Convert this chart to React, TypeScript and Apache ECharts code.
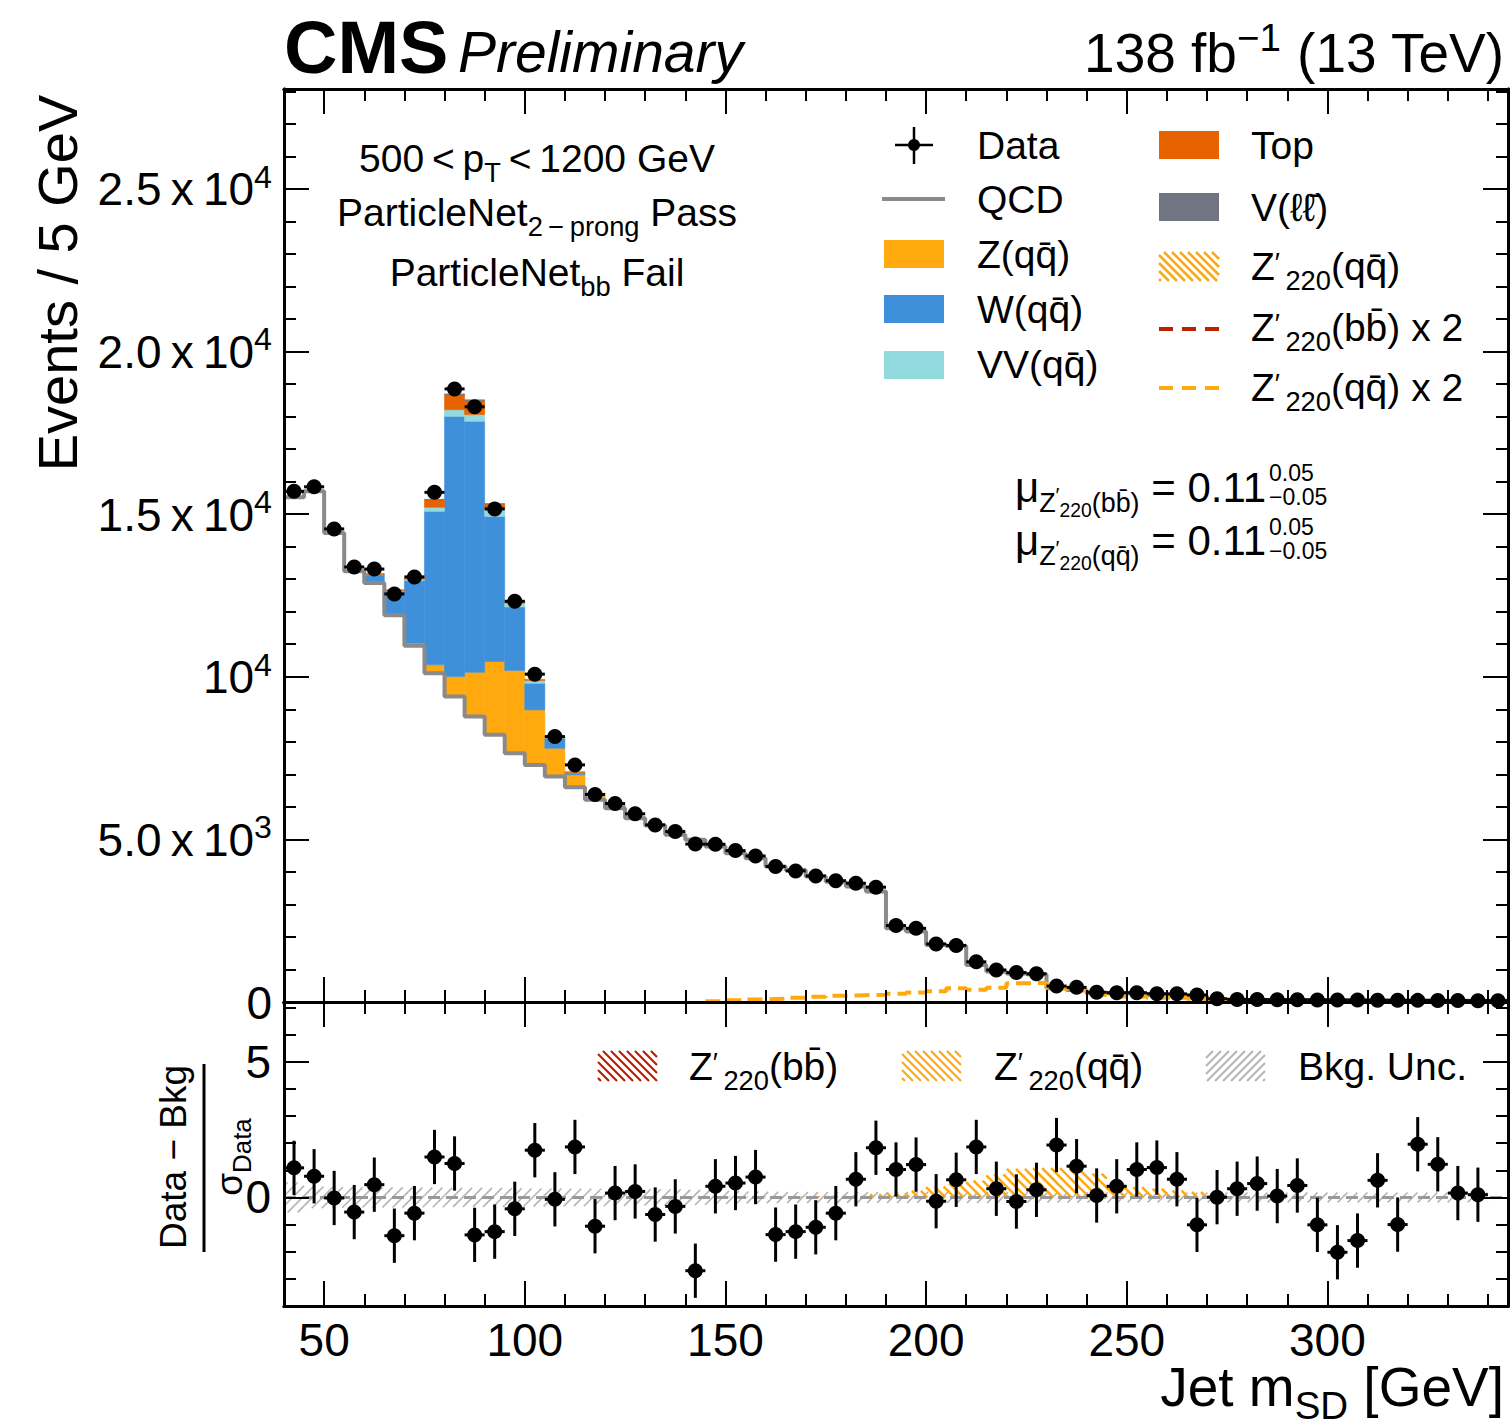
import React, { useEffect, useRef } from "react";
import * as echarts from "echarts";

const FONT = '"Liberation Sans", Helvetica, Arial, sans-serif';

// ---- binning of the soft-drop jet mass (GeV) ----
const massLow = 40;
const massHigh = 345;
const binWidth = 5;

// ---- observed events per 5 GeV bin (40 ... 345 GeV) ----
const dataCounts = [
  15700, 15840, 14545, 13375, 13310, 12545, 13070, 15670, 18850, 18300,
  15160, 12320, 10080, 8160, 7290, 6380, 6100, 5785, 5445, 5240,
  4855, 4850, 4655, 4490, 4165, 4030, 3875, 3730, 3650, 3530,
  2350, 2265, 1785, 1740, 1235, 985, 905, 865, 490, 450,
  300, 285, 285, 255, 250, 215, 100, 80, 75, 70,
  68, 65, 62, 58, 55, 52, 50, 48, 45, 42, 40,
];

// ---- background templates ----
const qcd = [
  15520, 15700, 14420, 13240, 12880, 11890, 10950, 10110, 9390, 8780,
  8215, 7650, 7290, 6930, 6600, 6215, 5960, 5650, 5425, 5140,
  4985, 4780, 4575, 4420, 4165, 4060, 3855, 3700, 3550, 3395,
  2270, 2165, 1755, 1720, 1140, 935, 880, 850, 420, 370,
  270, 270, 265, 215, 215, 185, 70, 65, 62, 60,
  58, 55, 53, 50, 48, 46, 44, 42, 40, 38, 36,
];
const zqq = [
  0, 0, 0, 0, 0, 20, 80, 255, 615, 1355,
  2255, 2545, 1690, 870, 385, 160, 60, 25, 10, 0,
  0, 0, 0, 0, 0, 0, 0, 0, 0, 0,
  0, 0, 0, 0, 0, 0, 0, 0, 0, 0,
  0, 0, 0, 0, 0, 0, 0, 0, 0, 0,
  0, 0, 0, 0, 0, 0, 0, 0, 0, 0, 0,
];
const wqq = [
  0, 0, 0, 30, 255, 720, 1930, 4720, 8000, 7720,
  4460, 1950, 820, 310, 60, 20, 0, 0, 0, 0,
  0, 0, 0, 0, 0, 0, 0, 0, 0, 0,
  0, 0, 0, 0, 0, 0, 0, 0, 0, 0,
  0, 0, 0, 0, 0, 0, 0, 0, 0, 0,
  0, 0, 0, 0, 0, 0, 0, 0, 0, 0, 0,
];
const vvqq = [
  0, 0, 0, 0, 10, 15, 40, 125, 205, 205,
  225, 120, 80, 20, 10, 0, 0, 0, 0, 0,
  0, 0, 0, 0, 0, 0, 0, 0, 0, 0,
  0, 0, 0, 0, 0, 0, 0, 0, 0, 0,
  0, 0, 0, 0, 0, 0, 0, 0, 0, 0,
  0, 0, 0, 0, 0, 0, 0, 0, 0, 0, 0,
];
const topQuark = [
  0, 0, 0, 10, 30, 30, 40, 235, 460, 430,
  155, 50, 40, 30, 25, 20, 15, 10, 0, 0,
  0, 0, 0, 0, 0, 0, 0, 0, 0, 0,
  0, 0, 0, 0, 0, 0, 0, 0, 0, 0,
  0, 0, 0, 0, 0, 0, 0, 0, 0, 0,
  0, 0, 0, 0, 0, 0, 0, 0, 0, 0, 0,
];
const vll = [
  0, 0, 0, 0, 0, 0, 0, 10, 25, 25,
  10, 0, 0, 0, 0, 0, 0, 0, 0, 0,
  0, 0, 0, 0, 0, 0, 0, 0, 0, 0,
  0, 0, 0, 0, 0, 0, 0, 0, 0, 0,
  0, 0, 0, 0, 0, 0, 0, 0, 0, 0,
  0, 0, 0, 0, 0, 0, 0, 0, 0, 0, 0,
];

// ---- Z'(220) -> qq signal template, scaled x 2 ----
const sigQQx2 = [
  0, 0, 0, 0, 0, 0, 0, 0, 0, 0,
  0, 0, 0, 0, 0, 0, 0, 0, 0, 0,
  0, 20, 50, 80, 100, 130, 160, 190, 210, 220,
  250, 290, 330, 420, 375, 440, 575, 595, 420, 350,
  220, 170, 165, 130, 130, 100, 40, 10, 0, 0,
  0, 0, 0, 0, 0, 0, 0, 0, 0, 0, 0,
];

// ---- lower panel: (Data - Bkg) / sigma_Data ----
const pulls: (number | null)[] = [
  1.09, 0.78, -0.02, -0.54, 0.47, -1.41, -0.58, 1.49, 1.25, -1.38,
  -1.26, -0.42, 1.74, -0.07, 1.86, -1.06, 0.16, 0.22, -0.63, -0.33,
  -2.7, 0.41, 0.53, 0.75, -1.37, -1.26, -1.1, -0.58, 0.67, 1.83,
  1.03, 1.21, -0.14, 0.65, 1.86, 0.32, -0.15, 0.28, 1.93, 1.15,
  0.07, 0.41, 1.03, 1.1, 0.67, -1.01, 0.01, 0.32, 0.51, 0.05,
  0.44, -1.01, -2.02, -1.59, 0.63, -1.0, 1.96, 1.22, 0.16, 0.1, null,
];
const bkgUnc = [
  0.55, 0.4, 0.38, 0.37, 0.37, 0.37, 0.36, 0.36, 0.35, 0.35,
  0.35, 0.34, 0.33, 0.33, 0.32, 0.32, 0.31, 0.3, 0.3, 0.3,
  0.28, 0.26, 0.24, 0.22, 0.21, 0.2, 0.2, 0.2, 0.2, 0.2,
  0.2, 0.2, 0.2, 0.2, 0.2, 0.2, 0.19, 0.19, 0.19, 0.19,
  0.19, 0.19, 0.18, 0.18, 0.18, 0.18, 0.18, 0.18, 0.18, 0.18,
  0.18, 0.18, 0.18, 0.18, 0.18, 0.18, 0.18, 0.18, 0.18, 0.18, 0,
];
const sigQQPull = [
  0, 0, 0, 0, 0, 0, 0, 0, 0, 0,
  0, 0, 0, 0, 0, 0, 0, 0, 0, 0,
  0, 0, 0.02, 0.02, 0.02, 0.03, 0.04, 0.05, 0.07, 0.12,
  0.16, 0.24, 0.4, 0.52, 0.62, 0.85, 1.05, 1.08, 1.08, 1.06,
  0.88, 0.55, 0.38, 0.32, 0.25, 0.2, 0.08, 0, 0, 0,
  0, 0, 0, 0, 0, 0, 0, 0, 0, 0, 0,
];

// ---- axis ticks and labels ----
const xMajorTicks = [50, 100, 150, 200, 250, 300];
const xMinorTicks = [40, 60, 70, 80, 90, 110, 120, 130, 140, 160, 170, 180, 190, 210, 220, 230, 240, 260, 270, 280, 290, 310, 320, 330, 340];
const yMainTicks = [0, 5000, 10000, 15000, 20000, 25000];
const yMainTickText = [
  "{m|0}",
  "{m|5.0\u2009x\u200910}{sup|3}",
  "{m|10}{sup|4}",
  "{m|1.5\u2009x\u200910}{sup|4}",
  "{m|2.0\u2009x\u200910}{sup|4}",
  "{m|2.5\u2009x\u200910}{sup|4}",
];
const yMainMinor = [1000, 2000, 3000, 4000, 6000, 7000, 8000, 9000, 11000, 12000, 13000, 14000, 16000, 17000, 18000, 19000, 21000, 22000, 23000, 24000, 26000, 27000, 28000];
const yRatioTicks = [0, 5];
const yRatioMinor = [-3, -2, -1, 1, 2, 3, 4, 6, 7];

const C = {
  qcd: "#8a8a8a",
  z: "#ffa90e",
  w: "#3f90da",
  vv: "#92dadd",
  top: "#e76300",
  vll: "#717581",
  bb: "#bd1f01",
  unc: "#b4b4b4",
};

const edgeOf = (i: number) => massLow + i * binWidth;
const centreOf = (i: number) => massLow + (i + 0.5) * binWidth;

// Rich-text token: size s, baseline shifted by d px (down positive) w.r.t. a main font of size f.
function tok(f: number, s: number, d: number) {
  const p = Math.max(0, 0.5575 * f - 0.1535 * s - d);
  return {
    fontSize: s,
    fontFamily: FONT,
    color: "#000",
    fill: "#000",
    verticalAlign: "bottom",
    padding: [0, 0, p, 0],
  };
}
function richSet(f: number) {
  return {
    m: { ...tok(f, f, 0), padding: [0.426 * f, 0, 0.404 * f, 0] },
    sub: tok(f, 0.7 * f, 0.24 * f),
    sup: tok(f, 0.7 * f, -0.38 * f),
    pr: tok(f, 0.7 * f, -0.22 * f),
    zs: tok(f, 0.64 * f, 0.24 * f),
    zp: tok(f, 0.5 * f, 0.0 * f),
    z2: tok(f, 0.46 * f, 0.36 * f),
  };
}

function measure(str: string, size: number) {
  const ctx = document.createElement("canvas").getContext("2d")!;
  ctx.font = `${size}px ${FONT}`;
  return ctx.measureText(str).width;
}

function hatchSegments(x0: number, y0: number, x1: number, y1: number, step: number, dir: string) {
  const segs: number[][] = [];
  if (x1 - x0 < 0.5 || y1 - y0 < 0.5) return segs;
  if (dir === "/") {
    const k0 = Math.ceil((x0 + y0) / step) * step;
    for (let k = k0; k <= x1 + y1; k += step) {
      const xa = Math.max(x0, k - y1);
      const xb = Math.min(x1, k - y0);
      if (xb > xa) segs.push([xa, k - xa, xb, k - xb]);
    }
  } else {
    const k0 = Math.ceil((x0 - y1) / step) * step;
    for (let k = k0; k <= x1 - y0; k += step) {
      const xa = Math.max(x0, y0 + k);
      const xb = Math.min(x1, y1 + k);
      if (xb > xa) segs.push([xa, xa - k, xb, xb - k]);
    }
  }
  return segs;
}

function hatchGroup(x0: number, y0: number, x1: number, y1: number, step: number, dir: string, color: string, width: number) {
  return hatchSegments(x0, y0, x1, y1, step, dir).map((s) => ({
    type: "line",
    shape: { x1: s[0], y1: s[1], x2: s[2], y2: s[3] },
    style: { stroke: color, lineWidth: width },
  }));
}

function rectRender(color: string) {
  return (_p: any, api: any) => {
    const a = api.coord([api.value(0), api.value(3)]);
    const b = api.coord([api.value(1), api.value(2)]);
    return {
      type: "rect",
      shape: { x: a[0], y: a[1], width: b[0] - a[0], height: b[1] - a[1] },
      style: { fill: color, stroke: color, lineWidth: 0.6 },
    };
  };
}

function hatchRender(color: string, dir: string, step: number, width: number) {
  return (_p: any, api: any) => {
    const a = api.coord([api.value(0), api.value(3)]);
    const b = api.coord([api.value(1), api.value(2)]);
    return {
      type: "group",
      children: hatchGroup(Math.min(a[0], b[0]), Math.min(a[1], b[1]), Math.max(a[0], b[0]), Math.max(a[1], b[1]), step, dir, color, width),
    };
  };
}

function pointRender(r: number) {
  return (_p: any, api: any) => {
    const x = api.value(0);
    const y = api.value(1);
    const e = api.value(2);
    const c = api.coord([x, y]);
    const l = api.coord([x - binWidth / 2, y]);
    const rr = api.coord([x + binWidth / 2, y]);
    const t = api.coord([x, y + e]);
    const b = api.coord([x, y - e]);
    return {
      type: "group",
      children: [
        { type: "line", shape: { x1: l[0], y1: l[1], x2: rr[0], y2: rr[1] }, style: { stroke: "#000", lineWidth: 3 } },
        { type: "line", shape: { x1: t[0], y1: t[1], x2: b[0], y2: b[1] }, style: { stroke: "#000", lineWidth: 3 } },
        { type: "circle", shape: { cx: c[0], cy: c[1], r }, style: { fill: "#000" } },
      ],
    };
  };
}

function stepData(values: number[], from = 0, to = values.length) {
  const out: number[][] = [];
  for (let i = from; i < to; i++) out.push([edgeOf(i), values[i]]);
  out.push([edgeOf(to), values[to - 1]]);
  return out;
}

function xAxisDef(grid: number, pos: string, ticks: number[], len: number, labels: boolean) {
  return {
    type: "value",
    gridIndex: grid,
    position: pos,
    min: massLow,
    max: massHigh,
    z: 20,
    axisLine: { show: true, onZero: false, lineStyle: { color: "#000", width: 3 } },
    axisTick: { show: true, inside: true, length: len, customValues: ticks, lineStyle: { color: "#000", width: 2 } },
    axisLabel: labels
      ? { show: true, customValues: ticks, fontSize: 46, fontFamily: FONT, color: "#000", margin: 11 }
      : { show: false },
    splitLine: { show: false },
  };
}

function yAxisDef(grid: number, pos: string, min: number, max: number, ticks: number[], len: number, label: any) {
  return {
    type: "value",
    gridIndex: grid,
    position: pos,
    min,
    max,
    z: 20,
    axisLine: { show: true, onZero: false, lineStyle: { color: "#000", width: 3 } },
    axisTick: { show: true, inside: true, length: len, customValues: ticks, lineStyle: { color: "#000", width: 2 } },
    axisLabel: label || { show: false },
    splitLine: { show: false },
  };
}

// rich text element, vertically centred on the capital letters
function txt(x: number, y: number, text: string, f: number, align = "left", rotation = 0) {
  return {
    type: "text",
    x,
    y,
    rotation,
    z: 100,
    style: {
      text,
      rich: richSet(f),
      fontSize: f,
      fontFamily: FONT,
      fill: "#000",
      align,
      textAlign: align,
      verticalAlign: "middle",
      textVerticalAlign: "middle",
    },
  };
}

function plain(x: number, y: number, text: string, size: number, align: string, more: any = {}, rotation = 0) {
  return {
    type: "text",
    x,
    y,
    rotation,
    z: 100,
    style: {
      text,
      fontSize: size,
      fontFamily: FONT,
      fill: "#000",
      align,
      textAlign: align,
      verticalAlign: "middle",
      textVerticalAlign: "middle",
      ...more,
    },
  };
}

function buildOption() {
  // stacked background fills above the QCD template
  const layers = [
    { values: zqq, color: C.z },
    { values: wqq, color: C.w },
    { values: vvqq, color: C.vv },
    { values: topQuark, color: C.top },
    { values: vll, color: C.vll },
  ];
  const base = qcd.slice();
  const stackSeries = layers.map((layer, li) => {
    const d: number[][] = [];
    layer.values.forEach((v, i) => {
      if (v > 0) d.push([edgeOf(i), edgeOf(i + 1), base[i], base[i] + v]);
      base[i] += v;
    });
    return {
      type: "custom",
      xAxisIndex: 0,
      yAxisIndex: 0,
      z: 2 + li * 0.01,
      silent: true,
      encode: { x: [0, 1], y: [2, 3] },
      renderItem: rectRender(layer.color),
      data: d,
    };
  });

  const mainPoints = dataCounts.map((n, i) => [centreOf(i), n, Math.sqrt(n)]);
  const ratioPoints = pulls
    .map((p, i) => (p === null ? null : [centreOf(i), p, 1]))
    .filter((v) => v !== null);
  const uncBand = bkgUnc.map((u, i) => [edgeOf(i), edgeOf(i + 1), -u, u]).filter((d) => d[3] > 0);
  const sigBand = sigQQPull.map((s, i) => [edgeOf(i), edgeOf(i + 1), 0, s]).filter((d) => d[3] > 0);

  const muF = 42;
  const mu1 = "{m|\u03bc}{zs|Z}{zp|\u2032}{z2|220}{zs|(bb\u0304)}{m| = 0.11}";
  const mu2 = "{m|\u03bc}{zs|Z}{zp|\u2032}{z2|220}{zs|(qq\u0304)}{m| = 0.11}";
  const muW =
    measure("\u03bc", muF) + measure("Z", 0.64 * muF) + measure("\u2032", 0.5 * muF) + measure("220", 0.46 * muF) +
    measure("(bb\u0304)", 0.64 * muF) + measure(" = 0.11", muF);
  const muX = 1015;
  const scriptX = muX + muW + 3;

  const LF = 39; // legend / label font size

  const graphic: any[] = [
    // header
    plain(284, 47, "CMS", 74, "left", { fontWeight: "bold" }),
    plain(458, 52, "Preliminary", 57, "left", { fontStyle: "italic" }),
    txt(1504, 52, "{m|138 fb}{sup|\u22121}{m| (13 TeV)}", 55, "right"),

    // selection labels
    txt(537, 158, "{m|500\u2009<\u2009p}{sub|T}{m|\u2009<\u20091200 GeV}", LF, "center"),
    txt(537, 212, "{m|ParticleNet}{sub|2\u2009\u2212\u2009prong}{m| Pass}", LF, "center"),
    txt(537, 272, "{m|ParticleNet}{sub|bb}{m| Fail}", LF, "center"),

    // legend, first column
    { type: "line", z: 100, shape: { x1: 895, y1: 145, x2: 933, y2: 145 }, style: { stroke: "#000", lineWidth: 2.5 } },
    { type: "line", z: 100, shape: { x1: 914, y1: 127, x2: 914, y2: 164 }, style: { stroke: "#000", lineWidth: 2.5 } },
    { type: "circle", z: 100, shape: { cx: 914, cy: 145, r: 6 }, style: { fill: "#000" } },
    txt(977, 145, "{m|Data}", LF),
    { type: "line", z: 100, shape: { x1: 882, y1: 199, x2: 945, y2: 199 }, style: { stroke: C.qcd, lineWidth: 4 } },
    txt(977, 199, "{m|QCD}", LF),
    { type: "rect", z: 100, shape: { x: 884, y: 240, width: 60, height: 28 }, style: { fill: C.z } },
    txt(977, 254, "{m|Z(qq\u0304)}", LF),
    { type: "rect", z: 100, shape: { x: 884, y: 295, width: 60, height: 28 }, style: { fill: C.w } },
    txt(977, 309, "{m|W(qq\u0304)}", LF),
    { type: "rect", z: 100, shape: { x: 884, y: 351, width: 60, height: 28 }, style: { fill: C.vv } },
    txt(977, 364, "{m|VV(qq\u0304)}", LF),

    // legend, second column
    { type: "rect", z: 100, shape: { x: 1159, y: 131, width: 60, height: 28 }, style: { fill: C.top } },
    txt(1251, 145, "{m|Top}", LF),
    { type: "rect", z: 100, shape: { x: 1159, y: 193, width: 60, height: 28 }, style: { fill: C.vll } },
    txt(1251, 207, "{m|V(\u2113\u2113\u0304)}", LF),
    { type: "group", z: 100, children: hatchGroup(1159, 252, 1219, 281, 8, "\\", C.z, 2.5) },
    txt(1251, 266, "{m|Z}{pr|\u2032}{sub|\u2009220}{m|(qq\u0304)}", LF),
    { type: "line", z: 100, shape: { x1: 1159, y1: 329, x2: 1219, y2: 329 }, style: { stroke: C.bb, lineWidth: 4, lineDash: [14, 9] } },
    txt(1251, 327, "{m|Z}{pr|\u2032}{sub|\u2009220}{m|(bb\u0304) x 2}", LF),
    { type: "line", z: 100, shape: { x1: 1159, y1: 388, x2: 1219, y2: 388 }, style: { stroke: C.z, lineWidth: 4, lineDash: [14, 9] } },
    txt(1251, 387, "{m|Z}{pr|\u2032}{sub|\u2009220}{m|(qq\u0304) x 2}", LF),

    // fitted signal strengths
    txt(muX, 487, mu1, muF),
    txt(muX, 540, mu2, muF),
    plain(scriptX, 473, "0.05", 23, "left"),
    plain(scriptX, 497, "\u22120.05", 23, "left"),
    plain(scriptX, 527, "0.05", 23, "left"),
    plain(scriptX, 551, "\u22120.05", 23, "left"),

    // lower-panel legend
    { type: "group", z: 100, children: hatchGroup(598, 1051, 657, 1081, 8, "\\", C.bb, 2.2) },
    txt(689, 1066, "{m|Z}{pr|\u2032}{sub|\u2009220}{m|(bb\u0304)}", LF),
    { type: "group", z: 100, children: hatchGroup(902, 1051, 961, 1081, 8, "\\", C.z, 2.2) },
    txt(994, 1066, "{m|Z}{pr|\u2032}{sub|\u2009220}{m|(qq\u0304)}", LF),
    { type: "group", z: 100, children: hatchGroup(1206, 1051, 1265, 1081, 8, "/", C.unc, 2) },
    txt(1298, 1066, "{m|Bkg. Unc.}", LF),

    // axis titles
    plain(57, 283, "Events / 5 GeV", 56, "center", {}, Math.PI / 2),
    txt(1504, 1386, "{m|Jet m}{sub|SD}{m| [GeV]}", 55, "right"),
    plain(173, 1157, "Data \u2212 Bkg", 37, "center", {}, Math.PI / 2),
    { type: "line", z: 100, shape: { x1: 204, y1: 1064, x2: 204, y2: 1252 }, style: { stroke: "#000", lineWidth: 3 } },
    txt(229, 1157, "{m|\u03c3}{sub|Data}", 37, "center", Math.PI / 2),
  ];

  return {
    animation: false,
    backgroundColor: "#fff",
    grid: [
      { left: 284, top: 89, width: 1224, height: 913, show: false },
      { left: 284, top: 1002, width: 1224, height: 304, show: false },
    ],
    xAxis: [
      xAxisDef(0, "bottom", xMajorTicks, 25, false),
      xAxisDef(0, "bottom", xMinorTicks, 12, false),
      xAxisDef(0, "top", xMajorTicks, 25, false),
      xAxisDef(0, "top", xMinorTicks, 12, false),
      xAxisDef(1, "bottom", xMajorTicks, 25, true),
      xAxisDef(1, "bottom", xMinorTicks, 12, false),
      xAxisDef(1, "top", xMajorTicks, 25, false),
      xAxisDef(1, "top", xMinorTicks, 12, false),
    ],
    yAxis: [
      yAxisDef(0, "left", 0, 28070, yMainTicks, 25, {
        show: true,
        customValues: yMainTicks,
        formatter: (v: number) => yMainTickText[yMainTicks.indexOf(v)] || "",
        rich: richSet(46),
        fontSize: 46,
        fontFamily: FONT,
        color: "#000",
        margin: 12,
      }),
      yAxisDef(0, "left", 0, 28070, yMainMinor, 12, null),
      yAxisDef(0, "right", 0, 28070, yMainTicks, 25, null),
      yAxisDef(0, "right", 0, 28070, yMainMinor, 12, null),
      yAxisDef(1, "left", -4, 7.2, yRatioTicks, 25, {
        show: true,
        customValues: yRatioTicks,
        fontSize: 46,
        fontFamily: FONT,
        color: "#000",
        margin: 13,
      }),
      yAxisDef(1, "left", -4, 7.2, yRatioMinor, 12, null),
      yAxisDef(1, "right", -4, 7.2, yRatioTicks, 25, null),
      yAxisDef(1, "right", -4, 7.2, yRatioMinor, 12, null),
    ],
    series: [
      ...stackSeries,
      {
        type: "line",
        xAxisIndex: 0,
        yAxisIndex: 0,
        step: "end",
        z: 3,
        silent: true,
        symbol: "none",
        lineStyle: { color: C.qcd, width: 4 },
        data: stepData(qcd),
      },
      {
        type: "line",
        xAxisIndex: 0,
        yAxisIndex: 0,
        step: "end",
        z: 4,
        silent: true,
        symbol: "none",
        lineStyle: { color: C.z, width: 4, type: [15, 7] },
        data: stepData(sigQQx2, 21, 48),
      },
      {
        type: "custom",
        xAxisIndex: 0,
        yAxisIndex: 0,
        z: 6,
        silent: true,
        encode: { x: 0, y: 1 },
        renderItem: pointRender(7.5),
        data: mainPoints,
      },
      // lower panel
      {
        type: "custom",
        xAxisIndex: 4,
        yAxisIndex: 4,
        z: 2,
        silent: true,
        encode: { x: [0, 1], y: [2, 3] },
        renderItem: hatchRender(C.unc, "/", 10, 1.6),
        data: uncBand,
      },
      {
        type: "custom",
        xAxisIndex: 4,
        yAxisIndex: 4,
        z: 3,
        silent: true,
        encode: { x: [0, 1], y: [2, 3] },
        renderItem: hatchRender(C.z, "\\", 9, 2.5),
        data: sigBand,
      },
      {
        type: "line",
        xAxisIndex: 4,
        yAxisIndex: 4,
        z: 4,
        silent: true,
        symbol: "none",
        lineStyle: { color: "#999", width: 3, type: [12, 6] },
        data: [[massLow, 0], [massHigh, 0]],
      },
      {
        type: "custom",
        xAxisIndex: 4,
        yAxisIndex: 4,
        z: 6,
        silent: true,
        encode: { x: 0, y: 1 },
        renderItem: pointRender(7.5),
        data: ratioPoints,
      },
    ],
    graphic,
  };
}

export default function App() {
  const ref = useRef<HTMLDivElement>(null);
  useEffect(() => {
    if (!ref.current) return;
    const chart = echarts.init(ref.current, undefined, { renderer: "svg" });
    chart.setOption(buildOption() as any);
    return () => chart.dispose();
  }, []);
  return (
    <div
      ref={ref}
      style={{ position: "absolute", left: 0, top: 0, width: 1511, height: 1427, background: "#fff" }}
    />
  );
}
